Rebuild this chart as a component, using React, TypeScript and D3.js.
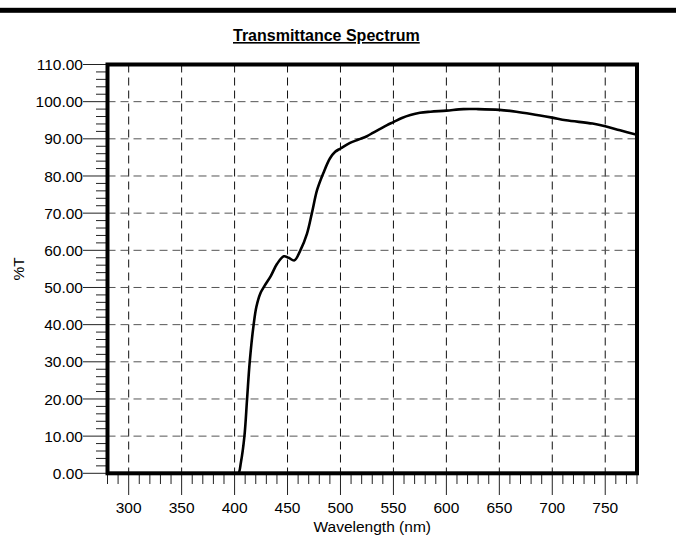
import React from "react";
import * as d3 from "d3";

const wavelengths = [400, 403.5, 406, 409.3, 411.8, 414.3, 418, 420.6, 424.3, 428, 434, 440, 446.5, 451, 456.5, 462, 468.4, 473, 478, 484, 490, 495, 500, 509, 517, 525, 531, 537.5, 544, 550, 558, 566, 575, 585, 600, 616, 630, 650, 666, 680, 700, 713, 738, 750, 764, 780];
const transmittance = [0, 0, 3, 10, 20, 30, 40, 44.8, 48.4, 50.3, 53, 56.3, 58.4, 58.0, 57.3, 59.9, 64.5, 70, 76.3, 80.9, 84.7, 86.5, 87.4, 88.9, 89.8, 90.7, 91.7, 92.7, 93.7, 94.5, 95.6, 96.4, 97.0, 97.3, 97.6, 98.0, 98.0, 97.8, 97.3, 96.7, 95.7, 95.0, 94.1, 93.4, 92.3, 91.1];

const xMajorTicks = [300, 350, 400, 450, 500, 550, 600, 650, 700, 750];
const yMajorTicks = [0, 10, 20, 30, 40, 50, 60, 70, 80, 90, 100, 110];
const titleText = "Transmittance Spectrum";
const xTitle = "Wavelength (nm)";
const yTitle = "%T";

const W = 676;
const H = 535;
const L = 107.5, R = 637, T = 64.5, B = 473.3;
const FONT = "Arial, 'Liberation Sans', sans-serif";

export default function App() {
  const x = d3.scaleLinear().domain([280, 780]).range([L, R]);
  const y = d3.scaleLinear().domain([0, 110]).range([B, T]);
  const xMinor = d3.range(280, 781, 10);
  const yMinor = d3.range(0, 111, 2);
  const line = d3
    .line<number>()
    .x((_, i) => x(wavelengths[i]))
    .y((d) => y(d))
    .curve(d3.curveCatmullRom.alpha(0.5));
  const path = line(transmittance) || "";

  return (
    <svg width={W} height={H} style={{ position: "absolute", left: 0, top: 0, background: "#fff" }} fontFamily={FONT}>
      <rect x={0} y={0} width={W} height={H} fill="#fff" />
      <rect x={0} y={7.8} width={W} height={5} fill="#000" />
      <text x={233} y={41} fontSize={16} fontWeight="bold" textDecoration="underline" fill="#000">
        {titleText}
      </text>
      {/* grid */}
      {xMajorTicks.map((t) => (
        <line key={"gx" + t} x1={x(t)} x2={x(t)} y1={T} y2={B} stroke="#111" strokeWidth={1} strokeDasharray="8,5" />
      ))}
      {yMajorTicks.filter((t) => t > 0 && t < 110).map((t) => (
        <line key={"gy" + t} x1={L} x2={R} y1={y(t)} y2={y(t)} stroke="#555" strokeWidth={1} strokeDasharray="8,5" />
      ))}
      {/* curve */}
      <defs>
        <clipPath id="plotclip">
          <rect x={L} y={T} width={R - L} height={B - T} />
        </clipPath>
      </defs>
      <path d={path} fill="none" stroke="#000" strokeWidth={2.6} strokeLinejoin="round" clipPath="url(#plotclip)" />
      {/* ticks */}
      {xMinor.map((t) => (
        <line key={"tx" + t} x1={x(t)} x2={x(t)} y1={B} y2={t % 50 === 0 ? 495 : 484} stroke="#222" strokeWidth={1} />
      ))}
      {yMinor.map((t) => (
        <line key={"ty" + t} x1={t % 10 === 0 ? 83 : 96} x2={L} y1={y(t)} y2={y(t)} stroke="#222" strokeWidth={1} />
      ))}
      {/* frame */}
      <rect x={L} y={T} width={R - L} height={B - T} fill="none" stroke="#000" strokeWidth={4} />
      {/* labels */}
      {xMajorTicks.map((t) => (
        <text key={"lx" + t} x={x(t)} y={513} fontSize={15.5} textAnchor="middle" fill="#000">
          {t}
        </text>
      ))}
      {yMajorTicks.map((t) => (
        <text key={"ly" + t} x={83} y={y(t)} dy="0.36em" fontSize={15.5} textAnchor="end" fill="#000">
          {t.toFixed(2)}
        </text>
      ))}
      <text x={(L + R) / 2} y={532} fontSize={15.5} textAnchor="middle" fill="#000">
        {xTitle}
      </text>
      <text transform={`translate(24, ${(T + B) / 2}) rotate(-90)`} fontSize={15.5} textAnchor="middle" fill="#000">
        {yTitle}
      </text>
    </svg>
  );
}
